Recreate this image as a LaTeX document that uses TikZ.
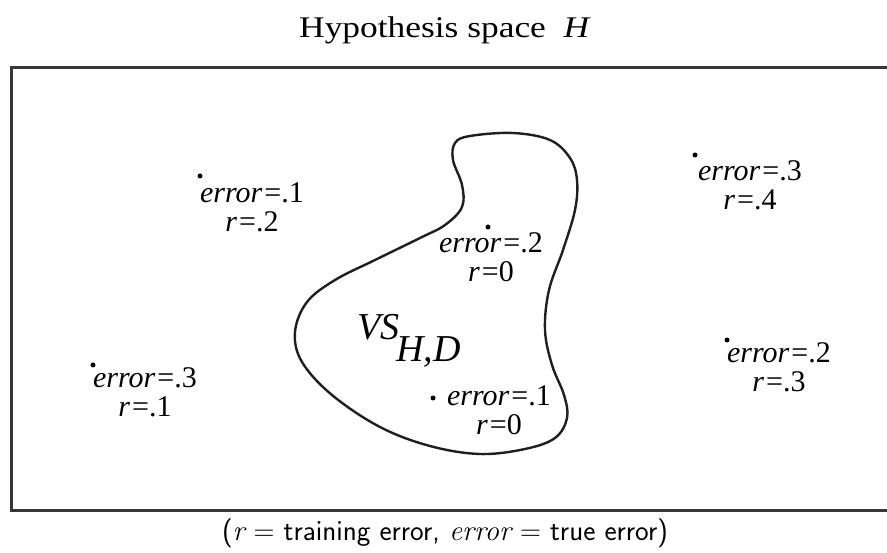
\documentclass[tikz,border=0pt]{standalone}
\usepackage{fontspec}
\setmainfont{Liberation Serif}
\newfontfamily\titlefont[FakeStretch=1.18]{Liberation Serif}
\newfontfamily\lmroman{Latin Modern Roman}
\usetikzlibrary{positioning}
\newcommand{\errpair}[2]{\textit{error}\kern2pt=#1\\\textit{r}\kern2pt=#2}
\newcommand{\lmit}[1]{{\lmroman\itshape #1}}

\begin{document}
\begin{tikzpicture}[
      x=1pt, y=-1pt,
      font=\fontsize{30}{29}\selectfont,
      dot/.style={circle, fill=black, inner sep=0pt, minimum size=5pt},
      hyp/.style={align=center, inner sep=0pt},
      frame/.style={draw=black!78, line width=3pt},
      blob/.style={draw=black!88, line width=2.4pt}
    ]
    \useasboundingbox (0,0) rectangle (887,553);
    \draw[frame] (900,68) -- (11,68) -- (11,510) -- (900,510);
    \node[anchor=base] (title) at (445,38) {\titlefont\fontsize{30}{30}\selectfont Hypothesis space\ \ \textit{H}};
    \draw[blob] plot[smooth cycle, tension=0.6] coordinates {
      (470,136) (513,133) (550,140) (570,158) (577,180) (575,210) (563,250)
      (549,290) (545,330) (552,365) (564,395) (567,418) (555,438) (525,449)
      (480,454) (430,446) (380,427) (332,395) (302,362) (295,332) (307,302)
      (335,280) (375,260) (420,238) (445,225) (462,207) (462,185) (453,160)
      (455,143)};
    \node[anchor=base west, inner sep=0pt, font=\fontsize{38}{38}\selectfont] (vs) at (357,340) {\textit{VS}\kern-3pt\raisebox{-22pt}{\textit{H,D}}};
    \node[dot] (p1) at (200,176) {};
    \node[hyp] (e1) at (252,207) {\errpair{.1}{.2}};
    \node[dot] (p2) at (488,227) {};
    \node[hyp] (e2) at (491,257) {\errpair{.2}{0}};
    \node[dot] (p3) at (433,398) {};
    \node[hyp] (e3) at (499,410) {\errpair{.1}{0}};
    \node[dot] (p4) at (695,155) {};
    \node[hyp] (e4) at (750,185) {\errpair{.3}{.4}};
    \node[dot] (p5) at (727,340) {};
    \node[hyp] (e5) at (779,367) {\errpair{.2}{.3}};
    \node[dot] (p6) at (93,365) {};
    \node[hyp] (e6) at (145,392) {\errpair{.3}{.1}};
    \node[font=\sffamily\fontsize{29}{29}\selectfont] (cap) at (445,533) {(\lmit{r} {\lmroman=} training error, \lmit{error} {\lmroman=} true error)};
  \end{tikzpicture}
\end{document}
